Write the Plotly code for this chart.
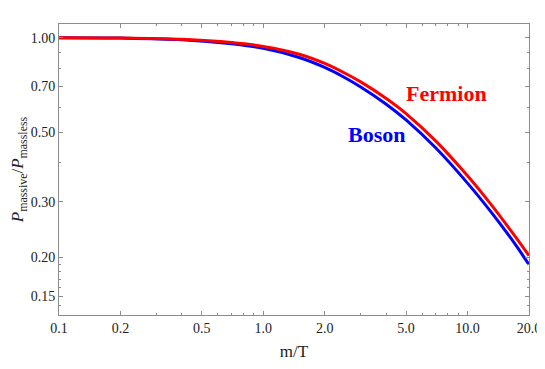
import plotly.graph_objects as go

# m/T values and pressure ratio
m_over_T = [0.1, 0.2, 0.4, 0.7, 1.0, 1.5, 2.0, 2.5, 3.0, 4.0, 5.0, 7.0, 10.0, 13.0, 17.0, 20.0]
fermion = [1.000, 0.998, 0.988, 0.965, 0.938, 0.886, 0.828, 0.772, 0.723, 0.640, 0.573, 0.468, 0.363, 0.295, 0.234, 0.202]
boson = [0.9995, 0.997, 0.985, 0.956, 0.925, 0.865, 0.804, 0.747, 0.697, 0.614, 0.547, 0.445, 0.344, 0.279, 0.221, 0.189]

x_ticks = [0.1, 0.2, 0.5, 1.0, 2.0, 5.0, 10.0, 20.0]
x_labels = ["0.1", "0.2", "0.5", "1.0", "2.0", "5.0", "10.0", "20.0"]
x_minor = [0.3, 0.4, 0.6, 0.7, 0.8, 0.9, 3.0, 4.0, 6.0, 7.0, 8.0, 9.0]
y_ticks = [0.15, 0.20, 0.30, 0.50, 0.70, 1.00]
y_labels = ["0.15", "0.20", "0.30", "0.50", "0.70", "1.00"]
y_minor = [0.14, 0.16, 0.17, 0.18, 0.19, 0.4, 0.6, 0.8, 0.9]

serif = "Liberation Serif"
frame = "#8c8c8c"

fig = go.Figure()

fig.add_trace(go.Scatter(
    x=m_over_T, y=boson, mode="lines", line_shape="spline",
    line=dict(color="#0000ff", width=3), name="Boson",
))
fig.add_trace(go.Scatter(
    x=m_over_T, y=fermion, mode="lines", line_shape="spline",
    line=dict(color="#ff0000", width=3), name="Fermion",
))

fig.add_annotation(x=0.899, y=-0.177, xref="x", yref="y", text="<b>Fermion</b>",
                   showarrow=False, font=dict(family=serif, size=22, color="#ff0000"))
fig.add_annotation(x=0.5565, y=-0.307, xref="x", yref="y", text="<b>Boson</b>",
                   showarrow=False, font=dict(family=serif, size=22, color="#0000ff"))

axis_common = dict(
    showgrid=False, zeroline=False, showline=True, linecolor=frame, linewidth=1,
    mirror="allticks", ticks="inside", ticklen=4, tickcolor=frame,
    tickfont=dict(family=serif, size=14, color="#222"),
    ticklabeloverflow="allow", automargin=False,
)

fig.update_xaxes(
    type="log", range=[-1, 1.30103],
    tickvals=x_ticks, ticktext=x_labels,
    minor=dict(tickvals=x_minor, ticks="inside", ticklen=2, tickcolor=frame),
    title=dict(text="m/T", font=dict(family=serif, size=17, color="#222"), standoff=20),
    **axis_common,
)
fig.update_yaxes(
    type="log", range=[-0.8837, 0.0437],
    tickvals=y_ticks, ticktext=y_labels,
    minor=dict(tickvals=y_minor, ticks="inside", ticklen=2, tickcolor=frame),
    title=dict(text="<i>P</i><sub>massive</sub>/<i>P</i><sub>massless</sub>",
               font=dict(family=serif, size=17, color="#222"), standoff=2),
    **axis_common,
)

# page body has an 8px margin all round, so the figure is shrunk to fit inside it
fig.update_layout(
    width=537, height=353,
    margin=dict(l=51, r=16, t=16, b=46),
    paper_bgcolor="white", plot_bgcolor="white",
    showlegend=False,
)

fig.write_html("out.html")
